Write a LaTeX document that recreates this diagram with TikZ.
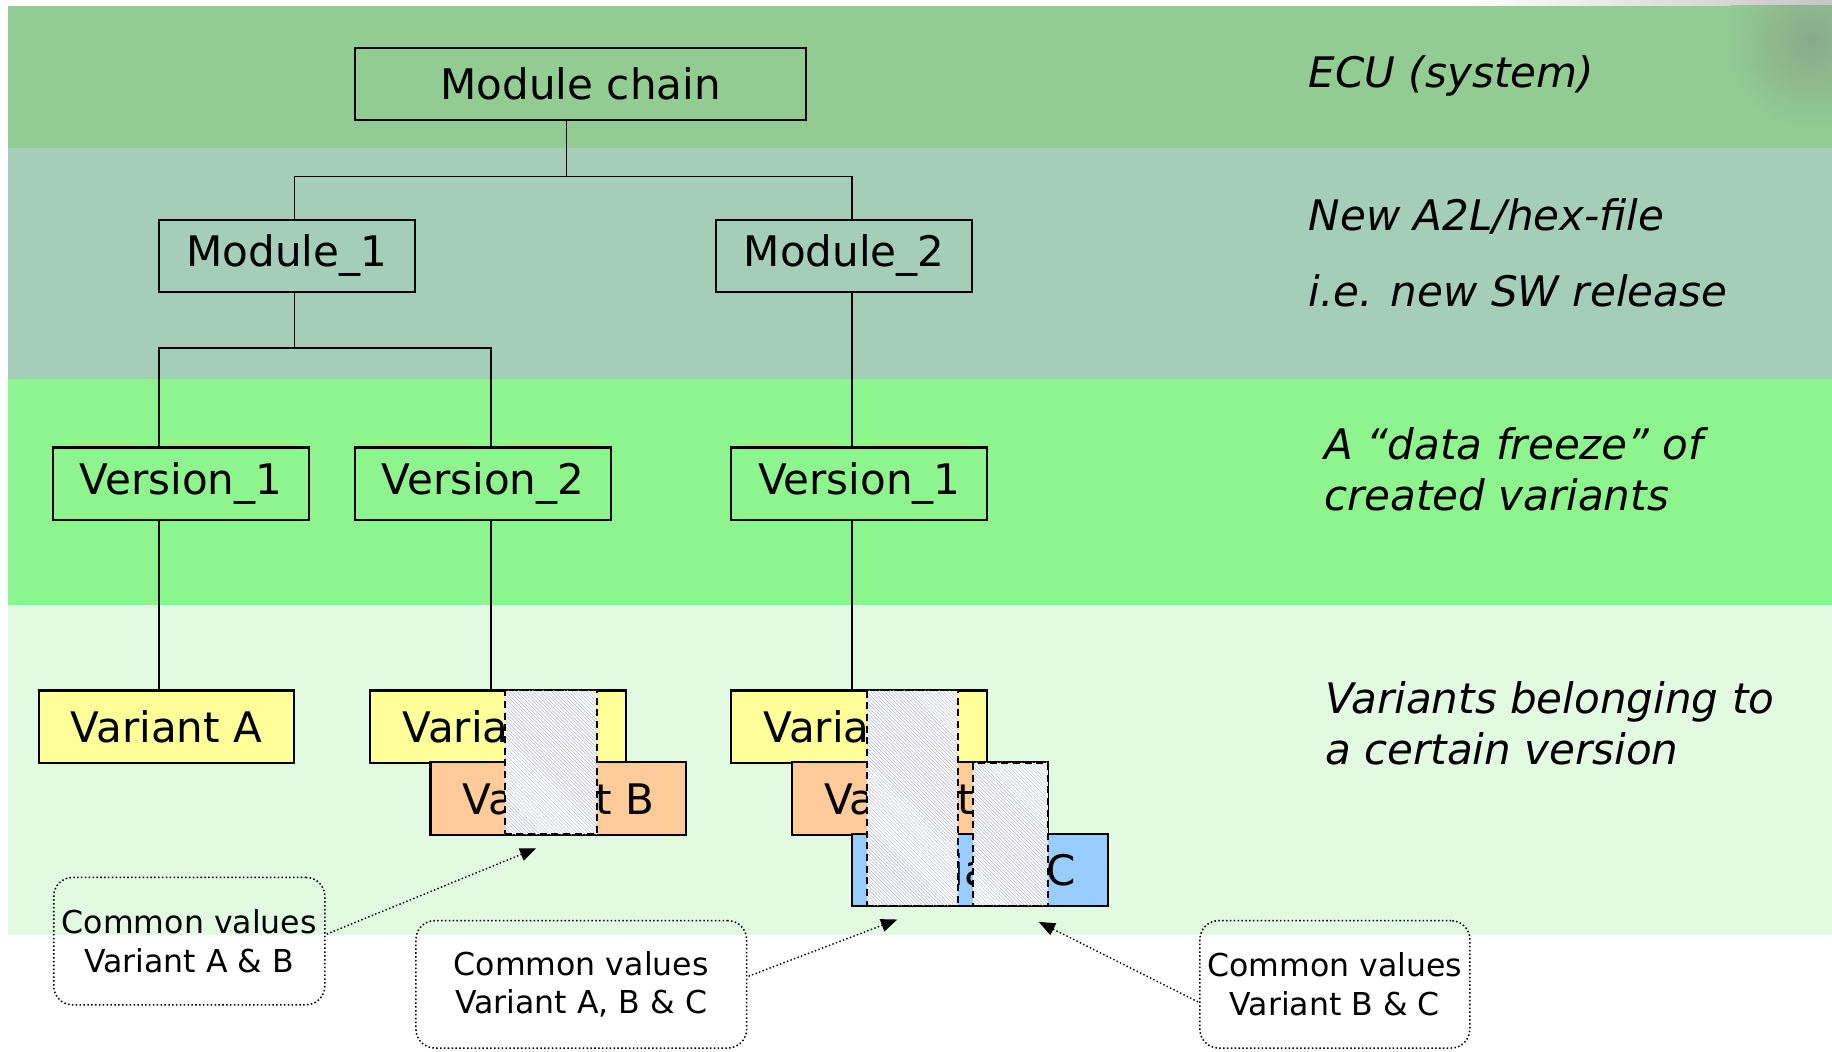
\documentclass[tikz,border=0pt]{standalone}
\usepackage{fontspec}
\setmainfont{DejaVu Sans}
\usetikzlibrary{patterns,arrows.meta,calc}
\definecolor{bandA}{RGB}{146,204,146}
\definecolor{bandB}{RGB}{164,206,184}
\definecolor{bandC}{RGB}{142,244,142}
\definecolor{bandD}{RGB}{226,250,226}
\definecolor{varA}{RGB}{255,255,153}
\definecolor{varB}{RGB}{255,204,153}
\definecolor{varC}{RGB}{153,204,255}
\definecolor{hatchc}{RGB}{178,184,204}
\begin{document}
\begin{tikzpicture}[x=1pt,y=-1pt,
  box/.style={draw=black,line width=1.8pt,minimum width=219pt,minimum height=62pt,inner sep=0pt,font=\fontsize{36}{40}\selectfont},
  conn/.style={line width=1.4pt},
  hatch/.style={preaction={fill=white},pattern=north west lines,pattern color=hatchc,draw=black,line width=1.5pt,dash pattern=on 6pt off 4pt,inner sep=0pt},
  callout/.style={draw=black,line width=1.3pt,dotted,rounded corners=16pt,minimum height=109pt,inner sep=0pt,align=center,font=\fontsize{27}{33}\selectfont},
  arr/.style={line width=1.2pt,dotted,-{Triangle[length=14pt,width=11pt]}},
  note/.style={anchor=base west,inner sep=0pt,font=\fontsize{36}{40}\selectfont\itshape}
]
\useasboundingbox (0,0) rectangle (1568,900);
% background bands
\fill[bandA] (7,5) rectangle (1568,127);
\fill[bandB] (7,127) rectangle (1568,324);
\fill[bandC] (7,324) rectangle (1568,518);
\fill[bandD] (7,518) rectangle (1568,800);
\shade[left color=white,right color=gray!45] (1250,0) rectangle (1568,5);
\begin{scope}
  \clip (1300,5) rectangle (1568,127);
  \shade[inner color=bandA!55!gray,outer color=bandA] (1550,35) circle (75pt);
\end{scope}

% boxes
\node[box,minimum width=386pt] (mc) at (497,72) {Module chain};
\node[box] (m1) at (245.5,219) {Module\_1};
\node[box] (m2) at (722.5,219) {Module\_2};
\node[box] (v1) at (155,414) {Version\_1};
\node[box] (v2) at (413.5,414) {Version\_2};
\node[box] (v3) at (735.5,414) {Version\_1};

% junction coordinates
\coordinate (j0) at (485,151);
\coordinate (j1) at (252,298);
\coordinate (xa) at (252,0);
\coordinate (xb) at (729,0);
\coordinate (xc) at (136,0);
\coordinate (xd) at (420,0);

% variant boxes
\node[box,fill=varA] (a1) at (142.5,622) {Variant A};
\node[box,fill=varA] (a2) at (426.5,622) {Variant A};
\node[box,fill=varB] (b2) at (478,683.5) {Variant B};
\node[box,fill=varA] (a3) at (735.5,622) {Variant A};
\node[box,fill=varB] (b3) at (787.5,683.5) {Variant B};
\node[box,fill=varC] (c3) at (838.5,744.5) {Variant C};

% connectors
\draw[conn] (j0 |- mc.south) -- (j0);
\draw[conn] (xa |- m1.north) |- (j0) -| (xb |- m2.north);
\draw[conn] (xa |- m1.south) -- (j1);
\draw[conn] (xc |- v1.north) |- (j1) -| (xd |- v2.north);
\draw[conn] (xb |- m2.south) -- (xb |- v3.north);
\draw[conn] (xc |- v1.south) -- (xc |- a1.north);
\draw[conn] (xd |- v2.south) -- (xd |- a2.north);
\draw[conn] (xb |- v3.south) -- (xb |- a3.north);

% hatched common-value areas
\node[hatch,minimum width=79pt,minimum height=123pt] (h1) at (471.5,652.5) {};
\node[hatch,minimum width=78pt,minimum height=184pt] (h2) at (781,683) {};
\node[hatch,minimum width=64pt,minimum height=122pt] (h3) at (865,714) {};

% callouts
\node[callout,minimum width=232pt] (c1) at (162,805.5) {Common values\\Variant A \& B};
\node[callout,minimum width=283pt] (c2) at (497.5,842.5) {Common values\\Variant A, B \& C};
\node[callout,minimum width=231pt] (c3n) at (1142.5,842.5) {Common values\\Variant B \& C};

\coordinate (t1) at (459,726);
\coordinate (t2) at (768,787);
\coordinate (t3) at (889,789);
\draw[arr] ($(c1.east)+(1,-6)$) -- (t1);
\draw[arr] ($(c2.east)+(1,-7)$) -- (t2);
\draw[arr] ($(c3n.west)+(-1,15)$) -- (t3);

% level notes
\node[note] (n1) at (1120,74.5) {ECU (system)};
\node[note] (n2) at (1120,197) {New A2L/hex-file};
\node[note] (n3) at (1120,262) {i.e. new SW release};
\node[note] (n4) at (1133,393.5) {A “data freeze” of};
\node[note] (n5) at (1133,436.5) {created variants};
\node[note] (n6) at (1134,610.5) {Variants belonging to};
\node[note] (n7) at (1134,654.5) {a certain version};
\end{tikzpicture}
\end{document}
